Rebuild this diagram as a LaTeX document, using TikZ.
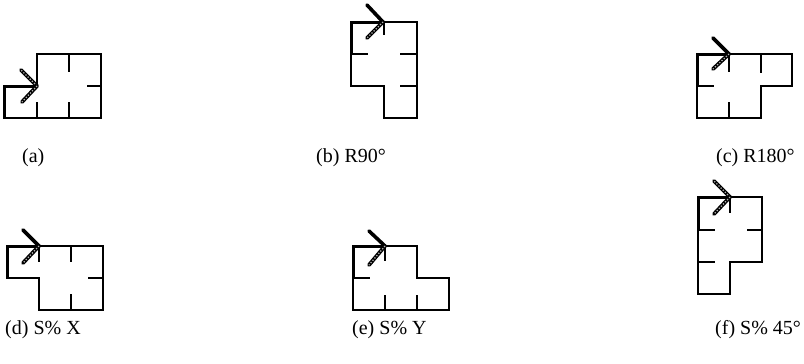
\documentclass[tikz,border=0pt]{standalone}
\usepackage{fontspec}
\setmainfont{Liberation Serif}
\tikzset{
  wall/.style={line width=1.1pt, line join=miter},
  thickwall/.style={line width=3pt, line join=miter},
  stub/.style={line width=1.1pt},
  solidarm/.style={line width=3.6pt, line cap=round, black},
  hatcharm/.style={line width=3.8pt, line cap=round, black},
  hatchover/.style={line width=1.3pt, white!70!black, dash pattern=on 1.2pt off 1.8pt},
  lab/.style={anchor=base west, inner sep=0pt, font=\fontsize{20}{24}\selectfont}
}
\newcommand{\harm}[2]{\draw[hatcharm] #1 -- #2; \draw[hatchover] #1 -- #2;}
\newcommand{\sarm}[2]{\draw[solidarm] #1 -- #2;}
\begin{document}
\begin{tikzpicture}[x=1pt,y=-1pt]
\useasboundingbox (0,0) rectangle (804,364);
% (a)
\draw[wall] (4,86) -- (37,86) -- (37,54) -- (101,54) -- (101,118) -- (4,118) -- cycle;
\draw[thickwall] (4,118) -- (4,86) -- (37,86);
\draw[stub] (69,54) -- (69,72) (101,86) -- (87,86) (69,118) -- (69,102) (37,118) -- (37,102);
\harm{(37,86)}{(21,70)}
\harm{(37,86)}{(22,102)}
\node[lab] (la) at (22,162) {(a)};
% (b)
\draw[wall] (351,22) -- (417,22) -- (417,118) -- (384,118) -- (384,86) -- (351,86) -- cycle;
\draw[thickwall] (351,54) -- (351,22) -- (384,22);
\draw[stub] (384,22) -- (384,35) (351,54) -- (368,54) (417,54) -- (400,54) (417,86) -- (400,86);
\sarm{(383,22)}{(367,5)}
\harm{(383,22)}{(367,38)}
\node[lab] (lb) at (316,162) {(b) R90°};
% (c)
\draw[wall] (697,54) -- (792,54) -- (792,86) -- (761,86) -- (761,118) -- (697,118) -- cycle;
\draw[thickwall] (697,86) -- (697,54) -- (729,54);
\draw[stub] (729,54) -- (729,72) (761,54) -- (761,73) (697,86) -- (714,86) (729,118) -- (729,102);
\sarm{(729,54)}{(713,38)}
\harm{(729,54)}{(713,69)}
\node[lab] (lc) at (716,162) {(c) R180°};
% (d)
\draw[wall] (7,246) -- (103,246) -- (103,310) -- (39,310) -- (39,278) -- (7,278) -- cycle;
\draw[thickwall] (7,278) -- (7,246) -- (39,246);
\draw[stub] (39,246) -- (39,262) (71,246) -- (71,262) (103,278) -- (88,278) (71,310) -- (71,294);
\sarm{(39,246)}{(23,230)}
\harm{(39,246)}{(23,263)}
\node[lab] (ld) at (5,334) {(d) S\% X};
% (e)
\draw[wall] (353,246) -- (417,246) -- (417,278) -- (449,278) -- (449,310) -- (353,310) -- cycle;
\draw[thickwall] (353,278) -- (353,246) -- (385,246);
\draw[stub] (385,246) -- (385,261) (353,278) -- (370,278) (385,310) -- (385,295) (417,310) -- (417,295);
\sarm{(385,246)}{(369,231)}
\harm{(385,246)}{(369,265)}
\node[lab] (le) at (352,334) {(e) S\% Y};
% (f)
\draw[wall] (698,197) -- (762,197) -- (762,262) -- (730,262) -- (730,294) -- (698,294) -- cycle;
\draw[thickwall] (698,230) -- (698,197) -- (730,197);
\draw[stub] (730,197) -- (730,213) (698,230) -- (715,230) (762,230) -- (747,230) (698,262) -- (715,262);
\harm{(730,197)}{(714,181)}
\harm{(730,197)}{(714,214)}
\node[lab] (lf) at (715,334) {(f) S\% 45°};
\end{tikzpicture}
\end{document}
